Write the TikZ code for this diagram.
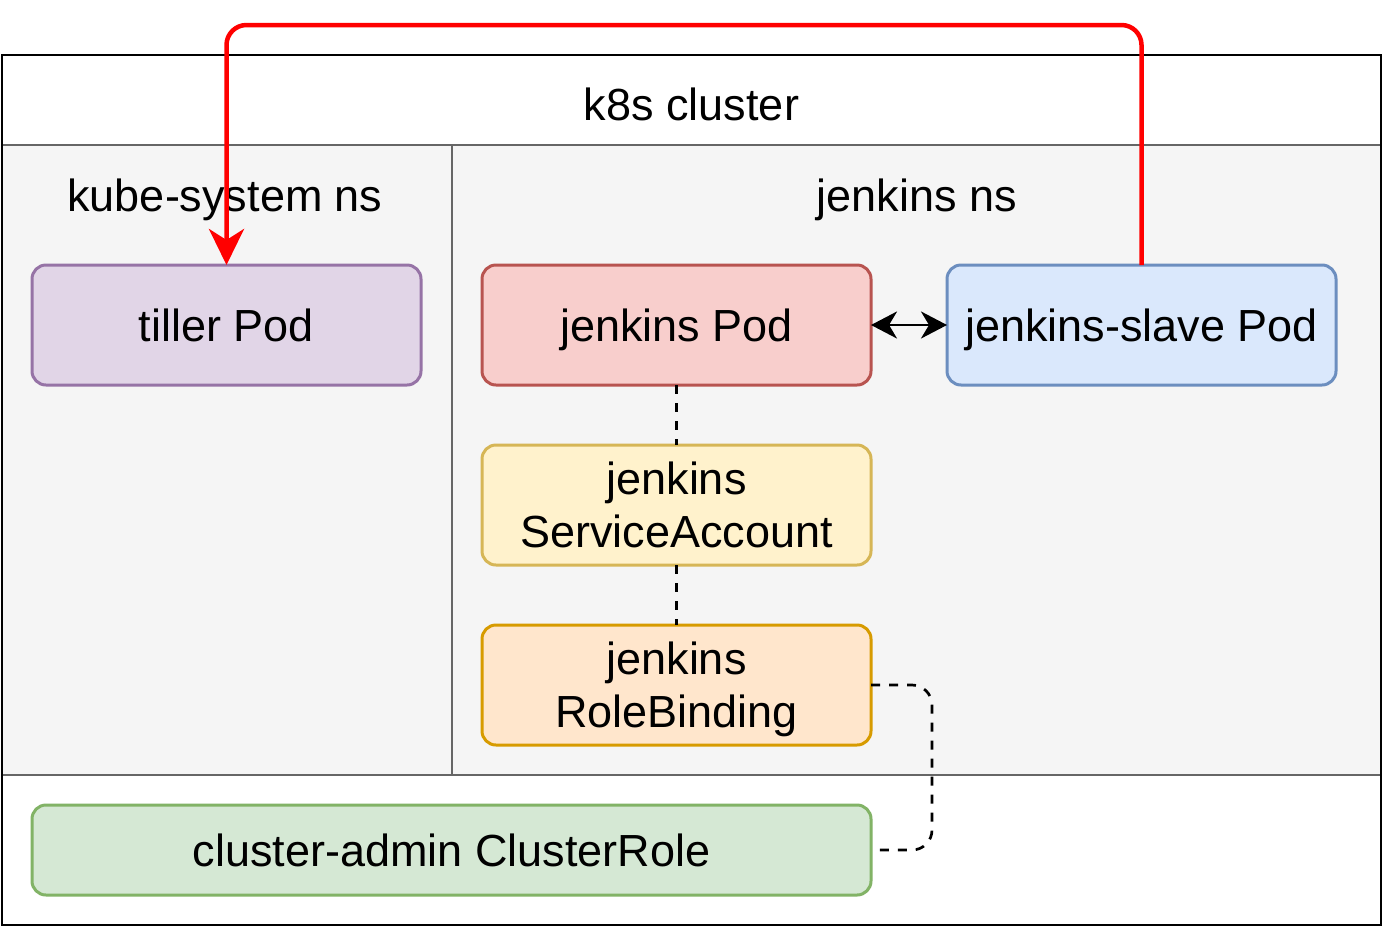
\documentclass[tikz,border=0pt]{standalone}
\usepackage{fontspec}
\setmainfont{Liberation Sans}
\usetikzlibrary{calc,positioning,arrows.meta}
\definecolor{paneGray}{HTML}{F5F5F5}
\definecolor{paneLine}{HTML}{666666}
\definecolor{tillerFill}{HTML}{E1D5E7}
\definecolor{tillerLine}{HTML}{9673A6}
\definecolor{jenkinsFill}{HTML}{F8CECC}
\definecolor{jenkinsLine}{HTML}{B85450}
\definecolor{slaveFill}{HTML}{DAE8FC}
\definecolor{slaveLine}{HTML}{6C8EBF}
\definecolor{saFill}{HTML}{FFF2CC}
\definecolor{saLine}{HTML}{D6B656}
\definecolor{rbFill}{HTML}{FFE6CC}
\definecolor{rbLine}{HTML}{D79B00}
\definecolor{crFill}{HTML}{D5E8D4}
\definecolor{crLine}{HTML}{82B366}

\begin{document}
\begin{tikzpicture}[x=1pt, y=-1pt,
        bigtext/.style={font=\fontsize{45}{53}\selectfont},
        oneline/.style={text height=33pt, text depth=0pt},
        pod/.style={draw, rounded corners=14pt, line width=3pt, minimum width=389pt,
            minimum height=120pt, align=center, inner sep=0pt, outer sep=0pt, bigtext},
        dashlink/.style={line width=2.7pt, dash pattern=on 9pt off 9pt}]
    \useasboundingbox (0, 0) rectangle (1383, 927);
    % cluster frame and namespaces
    \draw[line width=2.7pt, fill=white] (2, 55) rectangle (1381, 925);
    \draw[paneLine, line width=2.7pt, fill=paneGray] (2, 145) rectangle (452, 775);
    \draw[paneLine, line width=2.7pt, fill=paneGray] (452, 145) rectangle (1381, 775);
    \draw[line width=2.7pt] (2, 55) rectangle (1381, 925);
    \node[bigtext, oneline] (k8s) at (691.5, 104) {k8s cluster};
    \node[bigtext, oneline] (kubens) at (225, 195) {kube-system ns};
    \node[bigtext, oneline] (jenkinsns) at (917, 195) {jenkins ns};
    % pods and accounts
    \node[pod, oneline, fill=tillerFill, draw=tillerLine] (tiller) at (226.5, 325) {tiller Pod};
    \node[pod, oneline, fill=jenkinsFill, draw=jenkinsLine] (jpod) at (676.5, 325) {jenkins Pod};
    \node[pod, oneline, fill=slaveFill, draw=slaveLine] (slave) at (1141.5, 325) {jenkins-slave Pod};
    \node[pod, fill=saFill, draw=saLine, below=60pt of jpod] (sa) {jenkins\\ServiceAccount};
    \node[pod, fill=rbFill, draw=rbLine, below=60pt of sa] (rb)
        {jenkins\\\raisebox{0pt}[\height][0pt]{RoleBinding}};
    \node[pod, oneline, fill=crFill, draw=crLine, minimum width=839pt, minimum height=90pt]
        (cr) at (451.5, 850) {cluster-admin ClusterRole};
    % links
    \draw[line width=2.7pt, {Stealth[length=26pt,width=27pt,inset=8pt]}-{Stealth[length=26pt,width=27pt,inset=8pt]}]
        (jpod) -- (slave);
    \draw[dashlink] (jpod) -- (sa);
    \draw[dashlink] (sa) -- (rb);
    \draw[dashlink, rounded corners=20pt] (rb.east) -- ++(61, 0) |- (cr.east);
    \coordinate (top) at (0, 25);
    \draw[red, line width=4.5pt, rounded corners=20pt, -{Stealth[length=36pt,width=35pt,inset=11pt]}]
        (slave.north) -- (slave.north |- top) -- (tiller.north |- top) -- (tiller.north);
\end{tikzpicture}
\end{document}
